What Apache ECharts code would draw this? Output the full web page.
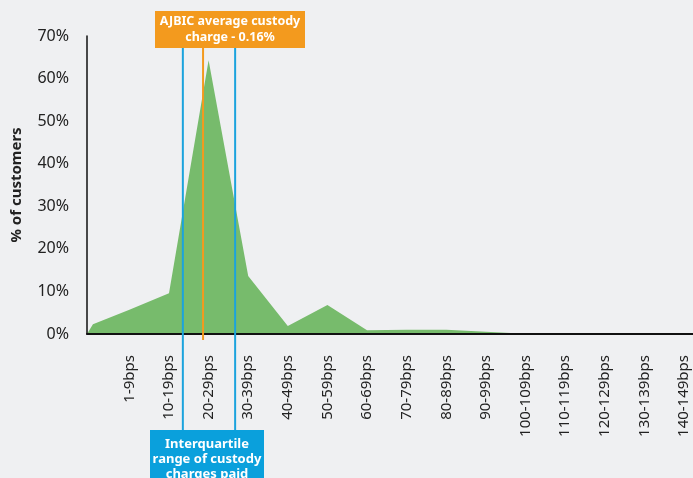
<!DOCTYPE html>
<html>
<head>
<meta charset="UTF-8">
<title>Custody charges</title>
<script src="https://cdn.jsdelivr.net/npm/echarts@6/dist/echarts.min.js"></script>
<style>
  html, body { margin: 0; padding: 0; background: #eff0f2; }
  #chart { width: 693px; height: 478px; }
</style>
</head>
<body>
<div id="chart"></div>
<script>
// charge bands (x axis)
var categories = ['1-9bps', '10-19bps', '20-29bps', '30-39bps', '40-49bps', '50-59bps', '60-69bps',
  '70-79bps', '80-89bps', '90-99bps', '100-109bps', '110-119bps', '120-129bps', '130-139bps', '140-149bps'];
// % of customers in each band
var customers = [5.7, 9.6, 64.3, 13.6, 1.9, 6.8, 0.9, 1.0, 1.0, 0.5, 0.05, 0, 0, 0, 0];
// small ramp where the area meets the y axis, [band position, %]
var leadIn = [[-1.07, 0], [-0.92, 2.3]];
var yTicks = [0, 10, 20, 30, 40, 50, 60, 70];

// annotations, in band positions
var averageCharge = 1.86;
var quartiles = [1.35, 2.67];

var font = '"Noto Sans", sans-serif';
var chart = echarts.init(document.getElementById('chart'));

var points = leadIn.concat(customers.map(function (v, i) { return [i, v]; }));

chart.setOption({
  backgroundColor: '#eff0f2',
  animation: false,
  grid: { left: 87, right: 0, top: 36, bottom: 144, outerBoundsMode: 'none' },
  xAxis: {
    type: 'value',
    min: -1.07,
    max: 14.23,
    z: 5,
    splitLine: { show: false },
    axisLine: { show: true, onZero: false, lineStyle: { color: '#111', width: 2 } },
    axisTick: { show: false },
    axisLabel: {
      customValues: categories.map(function (c, i) { return i; }),
      formatter: function (v) { return categories[Math.round(v)]; },
      rotate: 90,
      margin: 21,
      color: '#222',
      fontSize: 15,
      fontFamily: font
    }
  },
  yAxis: {
    type: 'value',
    min: yTicks[0],
    max: yTicks[yTicks.length - 1],
    interval: 10,
    z: 5,
    name: '% of customers',
    nameLocation: 'middle',
    nameGap: 63,
    nameTextStyle: { fontSize: 15, fontWeight: 'bold', color: '#222', fontFamily: font },
    splitLine: { show: false },
    axisLine: { show: true, onZero: false, lineStyle: { color: '#111', width: 1.5 } },
    axisTick: { show: false },
    axisLabel: { formatter: '{value}%', color: '#222', fontSize: 16, fontFamily: font, margin: 18 }
  },
  series: [{
    type: 'line',
    data: points,
    symbol: 'none',
    lineStyle: { width: 0 },
    areaStyle: { color: '#77bb6c', opacity: 1 }
  }]
});

// vertical markers and labels, placed from the x scale
var px = function (v) { return chart.convertToPixel({ xAxisIndex: 0 }, v); };
var avgX = px(averageCharge);
var graphics = [];
quartiles.forEach(function (q) {
  graphics.push({
    type: 'line', z: 10,
    shape: { x1: px(q), y1: 48, x2: px(q), y2: 432 },
    style: { stroke: '#1ba3dd', lineWidth: 2 }
  });
});
graphics.push({
  type: 'line', z: 10,
  shape: { x1: avgX, y1: 48, x2: avgX, y2: 340 },
  style: { stroke: '#f39a1e', lineWidth: 2 }
});
graphics.push({
  type: 'rect', z: 11,
  shape: { x: 155, y: 11, width: 150, height: 37 },
  style: { fill: '#f39a1e' }
});
graphics.push({
  type: 'text', z: 12, x: 230, y: 29,
  style: {
    text: 'AJBIC average custody\ncharge - 0.16%',
    fill: '#fff', font: 'bold 12.5px ' + font,
    align: 'center', verticalAlign: 'middle', lineHeight: 16
  }
});
graphics.push({
  type: 'rect', z: 11,
  shape: { x: 150, y: 430, width: 114, height: 60 },
  style: { fill: '#0aa0dc' }
});
graphics.push({
  type: 'text', z: 12, x: 207, y: 459,
  style: {
    text: 'Interquartile\nrange of custody\ncharges paid',
    fill: '#fff', font: 'bold 13px ' + font,
    align: 'center', verticalAlign: 'middle', lineHeight: 15
  }
});
chart.setOption({ graphic: graphics });
</script>
</body>
</html>
